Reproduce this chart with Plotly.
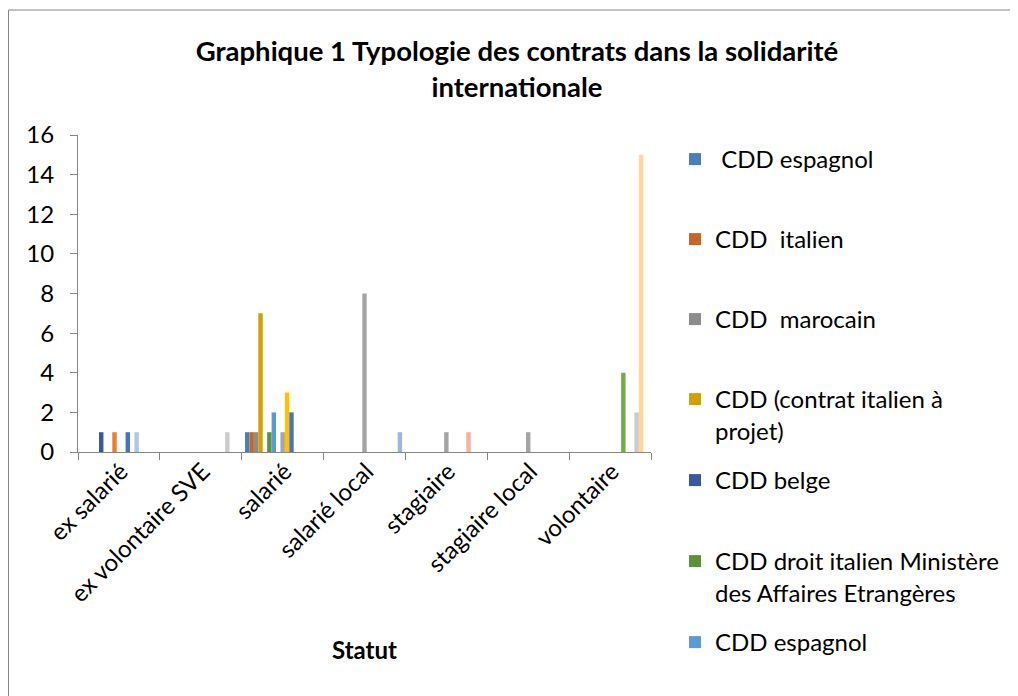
import plotly.graph_objects as go

# categories (x axis)
categories = ["ex salarié", "ex volontaire SVE", "salarié", "salarié local",
              "stagiaire", "stagiaire local", "volontaire"]

# series values, one list per contract type (in category order)
cdd_espagnol_1 = [0, 0, 1, 0, 0, 0, 0]
cdd_italien = [0, 0, 1, 0, 0, 0, 0]
cdd_marocain = [0, 0, 1, 0, 0, 0, 0]
cdd_projet = [0, 0, 7, 0, 0, 0, 0]
cdd_belge = [1, 0, 0, 0, 0, 0, 0]
cdd_mae = [0, 0, 1, 0, 0, 0, 0]
cdd_espagnol_2 = [0, 0, 2, 0, 0, 0, 0]
serie_8 = [1, 0, 0, 0, 0, 0, 0]
serie_9 = [0, 0, 1, 8, 1, 1, 0]
serie_10 = [0, 0, 3, 0, 0, 0, 0]
serie_11 = [1, 0, 2, 0, 0, 0, 0]
serie_12 = [0, 0, 0, 0, 0, 0, 4]
serie_13 = [1, 0, 0, 0, 0, 0, 0]
serie_14 = [0, 0, 0, 0, 1, 0, 0]
serie_15 = [0, 1, 0, 0, 0, 0, 2]
serie_16 = [0, 0, 0, 0, 0, 0, 15]
serie_17 = [0, 0, 0, 1, 0, 0, 0]

series_names = [
    "\u00a0CDD espagnol", "CDD\u00a0 italien", "CDD\u00a0 marocain",
    "CDD (contrat italien à<br>projet)", "CDD belge",
    "CDD droit italien Ministère<br>des Affaires Etrangères", "CDD espagnol",
    "Série 8", "Série 9", "Série 10", "Série 11", "Série 12",
    "Série 13", "Série 14", "Série 15", "Série 16", "Série 17",
]
series_values = [
    cdd_espagnol_1, cdd_italien, cdd_marocain, cdd_projet, cdd_belge, cdd_mae,
    cdd_espagnol_2, serie_8, serie_9, serie_10, serie_11, serie_12,
    serie_13, serie_14, serie_15, serie_16, serie_17,
]
colors = [
    "#4A7EBB", "#C6652A", "#8C8C8C", "#D4A000", "#36599F", "#5C913B",
    "#5B9BD5", "#ED7D31", "#A5A5A5", "#FFC000", "#4472C4", "#70AD47",
    "#ADC6E9", "#F4B49B", "#CBCBCB", "#FFD79A", "#A2B4DD",
]

FONT = "Lato"
FS = 24
# page body adds an 8px offset, so the figure is 8px smaller than the window
W, H = 1010, 688
L, R, T, B = 70, 367, 127, 244
PW, PH = W - L - R, H - T - B

# first text line of each visible legend entry (px from top of window)
legend_rows = [160, 240, 320, 400, 481, 562, 643]

fig = go.Figure()
for i, (name, vals, col) in enumerate(zip(series_names, series_values, colors)):
    fig.add_trace(go.Bar(
        x=categories, y=vals, name=name,
        marker=dict(color=col, line=dict(width=0)),
        showlegend=i < len(legend_rows),
        legend="legend" if i == 0 else f"legend{i + 1}" if i < len(legend_rows) else None,
    ))

layout_legends = {}
for i, row in enumerate(legend_rows):
    key = "legend" if i == 0 else f"legend{i + 1}"
    layout_legends[key] = dict(
        x=667 / W, y=1 - (row - 31) / H, xref="container", yref="container",
        xanchor="left", yanchor="top", valign="top",
        font=dict(family=FONT, size=FS, color="#000000"),
        bgcolor="rgba(0,0,0,0)", borderwidth=0,
    )

fig.update_layout(
    width=W, height=H,
    margin=dict(l=L, r=R, t=T, b=B),
    paper_bgcolor="white", plot_bgcolor="white",
    barmode="group", bargap=1.5 / 18.5, bargroupgap=0,
    font=dict(family=FONT, size=FS, color="#000000"),
    title=dict(
        text="<b>Graphique 1 Typologie des contrats dans la solidarité<br>internationale</b>",
        x=509 / W, xanchor="center", xref="container",
        y=1 - 53 / H, yanchor="top", yref="container",
        font=dict(family=FONT, size=27.5, color="#000000"),
    ),
    **layout_legends,
)

fig.update_xaxes(
    automargin=False,
    showline=True, linecolor="#868686", linewidth=1,
    ticks="outside", ticklen=7, tickcolor="#868686", tickson="boundaries",
    tickangle=-45, showgrid=False, ticklabelshift=2, ticklabelstandoff=-5,
    tickfont=dict(family=FONT, size=FS, color="#000000"),
    title=dict(text="<b>Statut</b>", standoff=36,
               font=dict(family=FONT, size=FS, color="#000000")),
)
fig.update_yaxes(
    automargin=False,
    range=[0, 16], dtick=2, showline=True, linecolor="#868686", linewidth=1,
    ticks="outside", ticklen=7, tickcolor="#868686", showgrid=False,
    zeroline=False, ticklabelstandoff=11,
    tickfont=dict(family=FONT, size=FS, color="#000000"),
)

# chart border (Excel chart area outline)
fig.add_shape(type="rect", xref="paper", yref="paper",
              x0=(0.5 - L) / PW, x1=(W + 20 - L) / PW,
              y0=-(B + 20) / PH, y1=(PH + T - 2) / PH,
              line=dict(color="#868686", width=1), layer="below")

fig.write_html("out.html")
